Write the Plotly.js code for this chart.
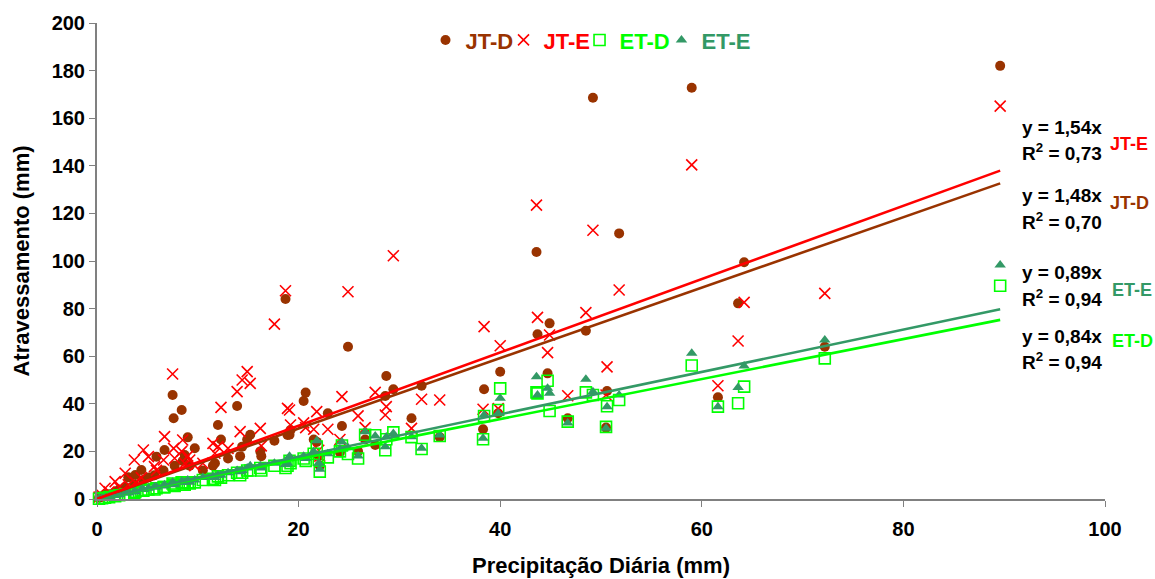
<!DOCTYPE html>
<html>
<head>
<meta charset="utf-8">
<script src="https://cdn.plot.ly/plotly-3.0.1.min.js"></script>
<style>html,body{margin:0;padding:0;background:#fff;}#chart{width:1155px;height:579px;}</style>
</head>
<body>
<div id="chart"></div>
<script>
// Daily precipitation (mm) per event
const precip = [89.6,72.2,64.2,63.6,61.6,59.0,51.8,50.6,50.5,49.2,48.5,46.7,44.9,44.7,43.6,43.7,40.0,39.8,38.4,38.3,34.0,32.2,31.2,29.4,28.7,28.6,27.6,26.6,25.9,24.9,24.3,24.1,22.9,22.1,22.0,21.8,21.5,20.7,20.5,19.2,19.1,18.9,18.7,17.6,16.3,16.2,15.2,14.9,14.4,14.2,13.9,13.0,12.3,12.0,11.7,11.5,10.5,9.7,9.2,9.0,8.7,8.5,8.4,7.7,7.6,7.5,6.7,6.6,5.9,5.7,5.1,4.6,4.4,3.8,3.7,3.1,2.8,2.2,1.8,1.2,0.8,0.5,0.2];
// Throughfall (mm) by series
const jtD = [182,64.0,99.5,82.2,42.7,172.8,111.6,45.4,30.0,168.6,70.7,33.9,73.8,52.8,103.8,69.2,53.5,36.0,46.1,29.3,26.0,47.6,33.9,46.1,51.7,43.3,22.7,25.0,20.0,64.0,30.7,19.6,36.0,14.0,18.0,24.0,25.0,44.7,41.2,29.0,27.0,26.9,84.0,24.5,18.0,20.0,27.0,25.0,22.0,18.0,39.1,17.0,25.0,31.1,15.0,14.0,12.0,21.3,14.0,25.9,18.5,16.0,37.4,14.0,33.9,43.7,20.6,12.0,17.8,10.0,9.0,8.0,12.2,10.1,6.0,9.1,5.0,4.0,3.0,2.0,2.0,1.0,0.5];
const jtE = [165.1,86.4,82.6,66.4,47.6,140.4,87.8,55.5,43.7,112.9,78.3,43.4,68.9,61.5,123.5,76.3,64.4,38.0,72.4,37.7,41.6,41.9,29.7,102.2,38.8,35.3,44.8,30.0,34.9,87.1,43.0,25.0,29.3,18.0,20.5,36.7,29.3,30.0,32.0,31.1,37.4,38.1,87.5,73.5,22.3,29.7,48.6,53.5,50.0,28.3,45.1,21.3,38.5,22.0,19.2,23.4,15.0,14.0,16.4,18.0,15.0,24.8,20.0,17.1,21.3,52.5,26.2,16.4,12.0,13.6,17.8,20.6,9.0,7.0,16.4,6.0,10.8,5.0,7.3,3.0,4.5,1.5,0.8];
const etD = [89.6,59.1,47.2,40.2,38.8,56.1,41.6,39.0,30.3,43.7,44.8,32.5,37.0,49.7,44.8,44.4,46.5,37.4,34.9,25.1,26.5,21.0,26.0,28.0,25.1,20.5,26.8,27.0,17.0,18.9,22.5,20.0,17.5,11.5,16.4,22.0,19.0,16.0,17.0,15.0,16.0,14.0,13.0,14.0,12.0,13.0,12.0,12.0,11.0,10.0,11.0,10.0,9.0,9.5,8.0,8.5,8.0,7.0,6.5,7.0,6.0,6.5,7.0,5.5,6.0,6.5,5.0,5.0,4.5,4.0,4.0,3.5,3.5,3.0,2.5,2.0,2.0,1.6,1.2,0.8,0.5,0.3,0.1];
const etE = [98.3,66.8,55.9,46.8,38.8,61.2,43.7,38.8,29.7,45.1,50.3,31.9,44.4,46.5,51.4,43.7,42.3,36.0,35.3,25.5,26.9,21.3,26.2,27.5,26.0,22.0,26.5,28.3,18.1,21.5,24.0,21.0,19.0,12.5,15.0,24.5,20.0,17.0,18.0,17.0,18.0,15.0,14.5,15.0,13.0,14.0,14.0,13.0,12.0,11.5,12.0,11.0,10.0,10.0,9.0,9.5,9.0,8.0,7.0,8.0,7.0,7.0,7.5,6.0,6.5,7.0,6.0,5.5,5.0,5.0,4.5,4.0,4.0,3.0,3.0,2.5,2.5,1.8,1.5,1.0,0.6,0.4,0.2];

const seriesNames = ["JT-D","JT-E","ET-D","ET-E"];
const seriesColors = ["#993300","#FF0000","#00FF00","#339966"];
const trendSlopes = [1.48,1.54,0.84,0.89];
const trendR2 = ["0,70","0,73","0,94","0,94"];
const trendSlopeText = ["1,48","1,54","0,84","0,89"];

const FONT = "Arial, 'Liberation Sans', sans-serif";
const yData = [jtD, jtE, etD, etE];
const markers = [
  {symbol:"circle", size:10, color:seriesColors[0]},
  {symbol:"x-thin-open", size:11, color:seriesColors[1], line:{color:seriesColors[1], width:1.6}},
  {symbol:"square-open", size:11, color:seriesColors[2], line:{color:seriesColors[2], width:1.6}},
  {symbol:"triangle-up", size:10, color:seriesColors[3]}
];
const legendIds = ["legend","legend2","legend3","legend4"];

const traces = [];
for (let i = 0; i < 4; i++) {
  traces.push({
    type:"scatter", mode:"markers", x:precip, y:yData[i],
    name:'<span style="color:' + seriesColors[i] + '">' + seriesNames[i] + '</span>',
    legend:legendIds[i],
    marker:markers[i], cliponaxis:false, hoverinfo:"x+y"
  });
}
const xMax = Math.max(...precip);
const lineOrder = [0,2,3,1];
for (const i of lineOrder) {
  traces.push({
    type:"scatter", mode:"lines", x:[0, xMax], y:[0, trendSlopes[i]*xMax],
    line:{color:seriesColors[i], width:2.6}, showlegend:false, hoverinfo:"skip"
  });
}

// annotation positions (layout only, paper coords)
const annPos = [
  {eqY:0.6366, r2Y:0.584,  labY:0.6218, labX:1.003}, // JT-D
  {eqY:0.7815, r2Y:0.729,  labY:0.7458, labX:1.003}, // JT-E
  {eqY:0.3424, r2Y:0.2899, labY:0.3319, labX:1.005}, // ET-D
  {eqY:0.4748, r2Y:0.4223, labY:0.4391, labX:1.005}  // ET-E
];
const annotations = [];
for (let i = 0; i < 4; i++) {
  const p = annPos[i];
  annotations.push({xref:"paper", yref:"paper", x:0.9157, y:p.eqY, xanchor:"left", yanchor:"middle", showarrow:false,
    text:"y = " + trendSlopeText[i] + "x", font:{family:FONT, size:19, color:"#000", weight:"bold"}});
  annotations.push({xref:"paper", yref:"paper", x:0.9157, y:p.r2Y, xanchor:"left", yanchor:"middle", showarrow:false,
    text:"R<sup>2</sup> = " + trendR2[i], font:{family:FONT, size:19, color:"#000", weight:"bold"}});
  annotations.push({xref:"paper", yref:"paper", x:p.labX, y:p.labY, xanchor:"left", yanchor:"middle", showarrow:false,
    text:seriesNames[i], font:{family:FONT, size:18, color:seriesColors[i], weight:"bold"}});
}

const legendX = [0.3259, 0.4033, 0.4787, 0.5600];
const layout = {
  width:1155, height:579,
  margin:{l:97, r:50, t:23, b:80, pad:0},
  paper_bgcolor:"#fff", plot_bgcolor:"#fff",
  font:{family:FONT, size:20, color:"#000", weight:"bold"},
  showlegend:true,
  xaxis:{range:[0,100], tickvals:[0,20,40,60,80,100], ticks:"outside", ticklen:6, tickcolor:"#808080",
    showline:true, linecolor:"#808080", linewidth:2, showgrid:false, zeroline:false,
    ticklabelstandoff:5,
    tickfont:{family:FONT, size:20, weight:"bold"},
    title:{text:"Precipitação Diária (mm)", font:{family:FONT, size:22, weight:"bold"}, standoff:19}},
  yaxis:{range:[0,200], tickvals:[0,20,40,60,80,100,120,140,160,180,200], ticks:"outside", ticklen:6, tickcolor:"#808080",
    showline:true, linecolor:"#808080", linewidth:2, showgrid:false, zeroline:false,
    tickfont:{family:FONT, size:20, weight:"bold"},
    title:{text:"Atravessamento (mm)", font:{family:FONT, size:22, weight:"bold"}, standoff:16}},
  annotations:annotations
};
for (let i = 0; i < 4; i++) {
  layout[legendIds[i]] = {orientation:"h", x:legendX[i], xanchor:"left", y:0.964, yanchor:"middle",
    font:{family:FONT, size:22, weight:"bold"}, itemwidth:30, bgcolor:"rgba(0,0,0,0)", borderwidth:0};
}

Plotly.newPlot("chart", traces, layout, {displayModeBar:false, staticPlot:true});
</script>
</body>
</html>
